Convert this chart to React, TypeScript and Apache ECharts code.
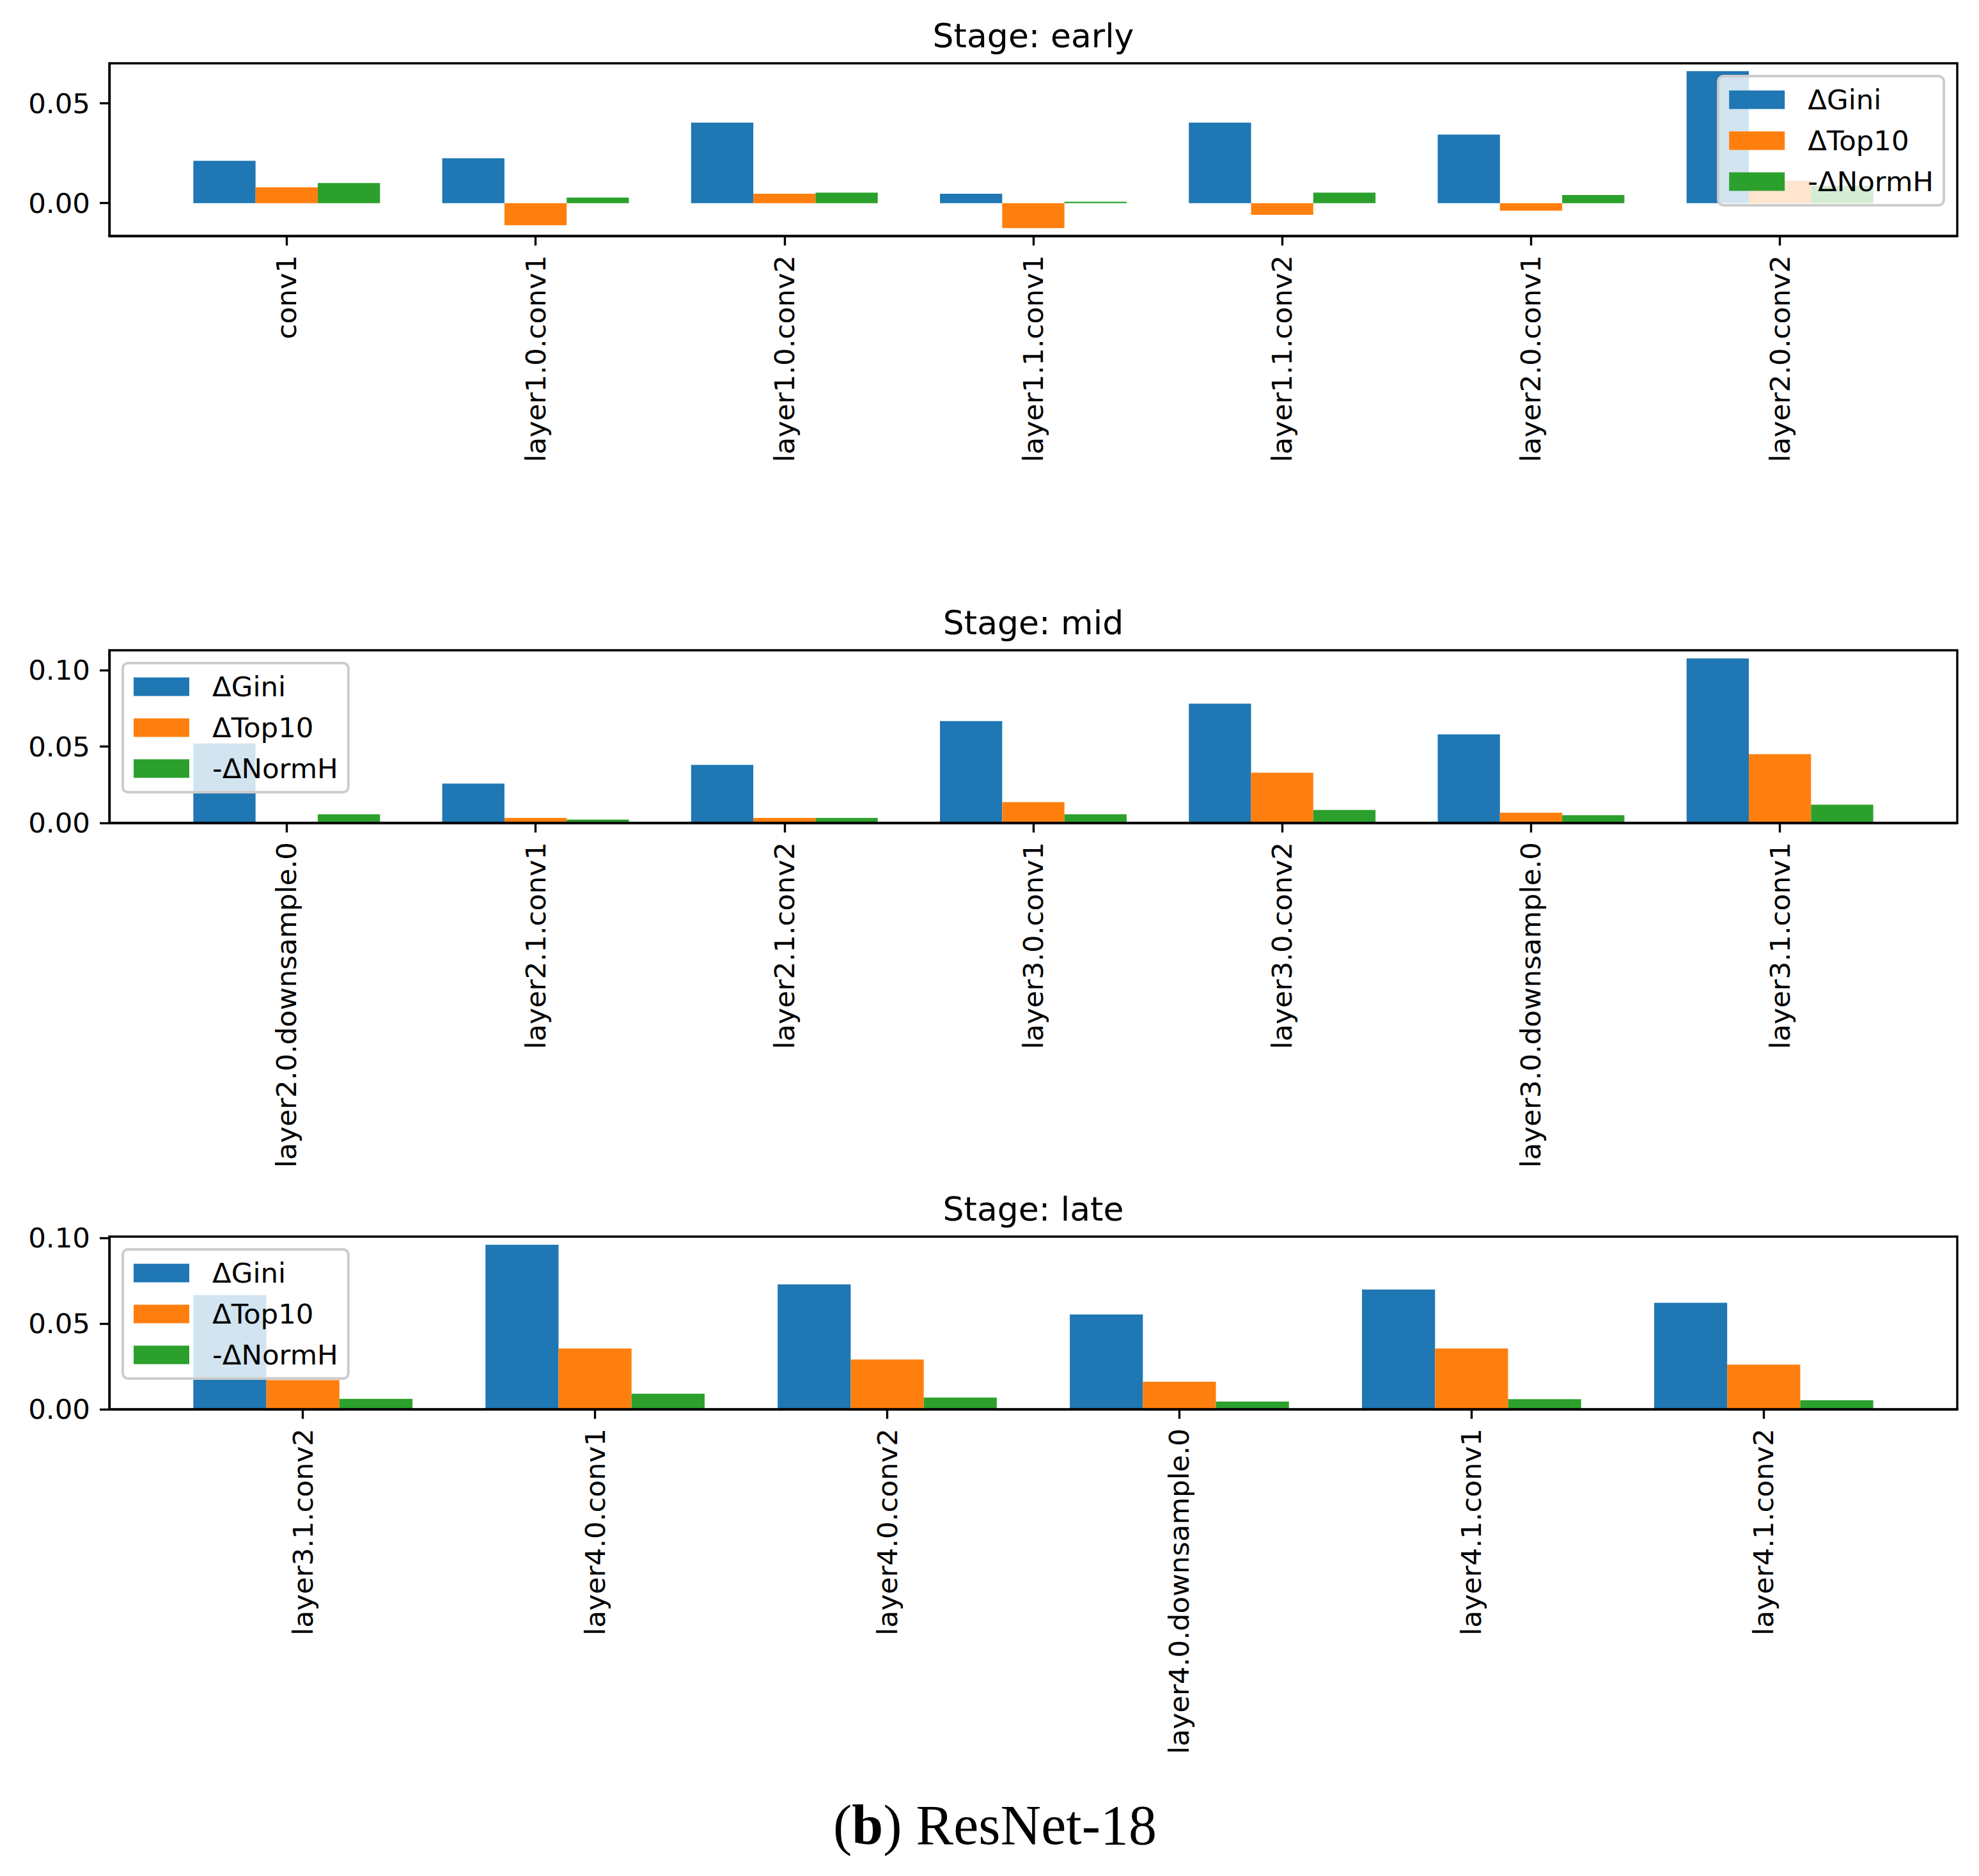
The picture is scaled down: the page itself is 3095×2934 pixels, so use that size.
import React, { useEffect, useRef } from 'react';
import * as echarts from 'echarts';

// --- data ---
const earlyLayers = ['conv1', 'layer1.0.conv1', 'layer1.0.conv2', 'layer1.1.conv1', 'layer1.1.conv2', 'layer2.0.conv1', 'layer2.0.conv2'];
const earlyGini = [0.0212, 0.0225, 0.0403, 0.0047, 0.0403, 0.0343, 0.0661];
const earlyTop10 = [0.0079, -0.0111, 0.0047, -0.0125, -0.0059, -0.0038, 0.0113];
const earlyNormH = [0.0101, 0.0028, 0.0053, 0.0007, 0.0053, 0.0041, 0.0086];

const midLayers = ['layer2.0.downsample.0', 'layer2.1.conv1', 'layer2.1.conv2', 'layer3.0.conv1', 'layer3.0.conv2', 'layer3.0.downsample.0', 'layer3.1.conv1'];
const midGini = [0.052, 0.0258, 0.038, 0.0667, 0.0781, 0.058, 0.1077];
const midTop10 = [0.0004, 0.0032, 0.0032, 0.0136, 0.0329, 0.0067, 0.045];
const midNormH = [0.0057, 0.0022, 0.0032, 0.0057, 0.0085, 0.005, 0.0119];

const lateLayers = ['layer3.1.conv2', 'layer4.0.conv1', 'layer4.0.conv2', 'layer4.0.downsample.0', 'layer4.1.conv1', 'layer4.1.conv2'];
const lateGini = [0.0666, 0.0959, 0.0728, 0.0553, 0.0698, 0.0621];
const lateTop10 = [0.017, 0.0354, 0.029, 0.016, 0.0354, 0.026];
const lateNormH = [0.0061, 0.009, 0.0068, 0.0045, 0.0059, 0.0052];

const earlyTicks = [0, 0.05];
const midTicks = [0, 0.05, 0.1];
const lateTicks = [0, 0.05, 0.1];

const seriesNames = ['ΔGini', 'ΔTop10', '-ΔNormH'];
const colors = ['#1f77b4', '#ff7f0e', '#2ca02c'];

const FONT = 'DejaVu Sans';
const FS = 43.5;
const W = 3095;
const H = 2934;
const FRAME_L = 171;
const FRAME_R = 3061;
const FRAME_H = 270;

const App: React.FC = () => {
    const chartRef = useRef<HTMLDivElement>(null);

    useEffect(() => {
        if (!chartRef.current) return;
        const chart = echarts.init(chartRef.current, null, { renderer: 'svg' });

        const panels = [
            { title: 'Stage: early', top: 99, layers: earlyLayers, vals: [earlyGini, earlyTop10, earlyNormH], ticks: earlyTicks, legendRight: true },
            { title: 'Stage: mid', top: 1017, layers: midLayers, vals: [midGini, midTop10, midNormH], ticks: midTicks, legendRight: false },
            { title: 'Stage: late', top: 1934, layers: lateLayers, vals: [lateGini, lateTop10, lateNormH], ticks: lateTicks, legendRight: false },
        ];

        const grid: any[] = [];
        const xAxis: any[] = [];
        const yAxis: any[] = [];
        const series: any[] = [];
        const legend: any[] = [];
        const graphic: any[] = [];

        panels.forEach((p, i) => {
            const n = p.layers.length;
            // matplotlib style limits: 5% margins
            const span = n - 1 + 0.75;
            const xMin = -0.375 - 0.05 * span;
            const xMax = n - 1 + 0.375 + 0.05 * span;
            const all = ([] as number[]).concat(...p.vals);
            const dMin = Math.min(...all);
            const dMax = Math.max(...all);
            let yMin = Math.min(0, dMin);
            let yMax = dMax;
            const r = yMax - yMin;
            if (yMin < 0) yMin -= 0.05 * r;
            yMax += 0.05 * r;
            const idx = p.layers.map((_, j) => j);

            grid.push({
                left: FRAME_L,
                right: W - FRAME_R,
                top: p.top,
                height: FRAME_H,
                show: true,
                borderColor: '#000',
                borderWidth: 3.4,
                z: 10,
            });
            xAxis.push({
                type: 'value',
                gridIndex: i,
                min: xMin,
                max: xMax,
                position: 'bottom',
                axisLine: { show: true, onZero: false, lineStyle: { color: '#000', width: 3.4 } },
                axisTick: { show: true, customValues: idx, length: 15, lineStyle: { color: '#000', width: 3.4 } },
                axisLabel: {
                    customValues: idx,
                    rotate: 90,
                    margin: 30,
                    fontSize: FS,
                    fontFamily: FONT,
                    color: '#000',
                    formatter: (v: number) => p.layers[Math.round(v)],
                },
                splitLine: { show: false },
                z: 10,
            });
            yAxis.push({
                type: 'value',
                gridIndex: i,
                min: yMin,
                max: yMax,
                axisLine: { show: true, onZero: false, lineStyle: { color: '#000', width: 3.4 } },
                axisTick: { show: true, customValues: p.ticks, length: 15, lineStyle: { color: '#000', width: 3.4 } },
                axisLabel: {
                    customValues: p.ticks,
                    margin: 30,
                    fontSize: FS,
                    fontFamily: FONT,
                    color: '#000',
                    formatter: (v: number) => v.toFixed(2),
                },
                splitLine: { show: false },
                z: 10,
            });
            p.vals.forEach((vals, k) => {
                series.push({
                    name: seriesNames[k],
                    type: 'bar',
                    xAxisIndex: i,
                    yAxisIndex: i,
                    barWidth: '25%',
                    barGap: '0%',
                    itemStyle: { color: colors[k] },
                    data: vals.map((v, j) => [j, v]),
                });
            });
            const lg: any = {
                orient: 'vertical',
                top: p.top + 20,
                data: seriesNames,
                icon: 'rect',
                itemWidth: 87,
                itemHeight: 29,
                itemGap: 20,
                padding: [15, 16, 15, 17],
                backgroundColor: 'rgba(255,255,255,0.8)',
                borderColor: '#cccccc',
                borderWidth: 4,
                borderRadius: 8,
                selectedMode: false,
                textStyle: {
                    fontSize: FS,
                    lineHeight: 44,
                    fontFamily: FONT,
                    color: '#000',
                    padding: [0, 0, 0, 31],
                },
                z: 20,
            };
            if (p.legendRight) lg.right = W - (FRAME_R - 21);
            else lg.left = FRAME_L + 21;
            legend.push(lg);
            graphic.push({
                type: 'text',
                x: (FRAME_L + FRAME_R) / 2,
                y: p.top - 43,
                style: {
                    text: p.title,
                    fontSize: 52,
                    fontFamily: FONT,
                    fill: '#000',
                    textAlign: 'center',
                    textVerticalAlign: 'middle',
                },
            });
        });

        graphic.push({
            type: 'text',
            x: 1556,
            y: 2854,
            style: {
                text: '({b|b}) ResNet-18',
                fontSize: 88,
                fontFamily: 'Liberation Serif',
                fill: '#000',
                textAlign: 'center',
                textVerticalAlign: 'middle',
                rich: {
                    b: { fontSize: 88, fontFamily: 'Liberation Serif', fontWeight: 'bold', fill: '#000' },
                },
            },
        });

        chart.setOption({
            animation: false,
            backgroundColor: '#fff',
            grid,
            xAxis,
            yAxis,
            legend,
            series,
            graphic,
        });

        return () => {
            chart.dispose();
        };
    }, []);

    return <div ref={chartRef} style={{ position: 'absolute', left: 0, top: 0, width: W, height: H }} />;
};

export default App;
